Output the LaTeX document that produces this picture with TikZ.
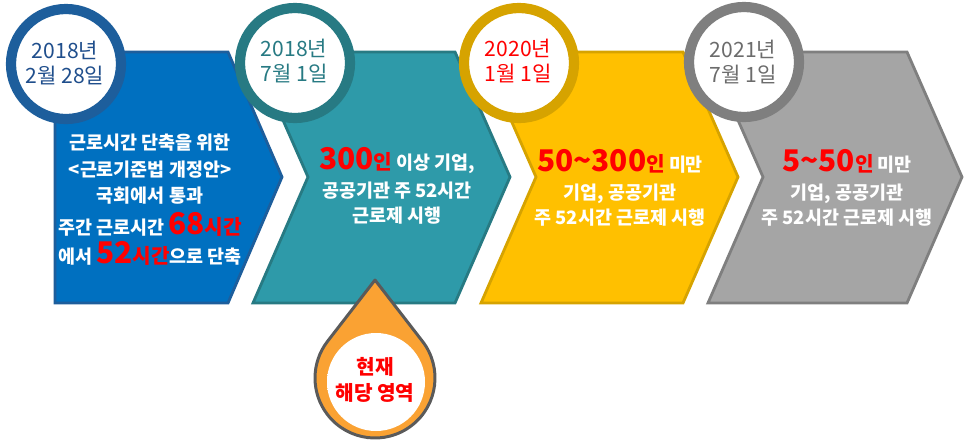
\documentclass[tikz,border=0pt]{standalone}
\usepackage{fontspec}
\setmainfont{Noto Sans CJK KR}
\usetikzlibrary{shadows}
\definecolor{blau}{HTML}{0070C0}
\definecolor{blaurand}{HTML}{1D5E9C}
\definecolor{blautext}{HTML}{1F4E8C}
\definecolor{petrol}{HTML}{2E9AA9}
\definecolor{petrolrand}{HTML}{277A83}
\definecolor{gelb}{HTML}{FFC000}
\definecolor{gelbrand}{HTML}{D6A300}
\definecolor{grau}{HTML}{A5A5A5}
\definecolor{graurand}{HTML}{7F7F7F}
\definecolor{tropfen}{HTML}{FAA233}
\definecolor{tropfenrand}{HTML}{5A5A5A}
\newcommand{\rotgross}[1]{{\color{red}\fontsize{17}{17}\selectfont\bfseries #1}}
\newcommand{\rotklein}[1]{{\color{red}\fontsize{11.5}{14}\selectfont #1}}
\pgfdeclareradialshading{tropfenlicht}{\pgfpoint{-6bp}{6bp}}{color(0bp)=(white); color(30bp)=(white); color(50bp)=(gray!70)}
\begin{document}
\begin{tikzpicture}[x=0.02cm,y=-0.02cm,
	feld/.style={line width=1.6pt},
	ring/.style={line width=5.8pt,fill=white,drop shadow={shadow xshift=1.5pt,shadow yshift=-1.5pt,opacity=0.3,fill=black}},
	datum/.style={align=center,font=\fontsize{12}{14}\selectfont},
	inhalt/.style={align=center,text=white,font=\fontsize{10.5}{14}\selectfont\bfseries}]
	\useasboundingbox (0,0) rectangle (966,443);
	% Pfeile
	\draw[feld,fill=blau,draw=blaurand] (55,52) to (228,52) to (282,177) to (228,303) to (55,303) to cycle;
	\draw[feld,fill=petrol,draw=petrolrand] (253,52) to (455,52) to (510,177) to (455,303) to (253,303) to (308,177) to cycle;
	\draw[feld,fill=gelb,draw=gelbrand] (481,52) to (683,52) to (738,177) to (683,303) to (481,303) to (536,177) to cycle;
	\draw[feld,fill=grau,draw=graurand] (708,52) to (907,52) to (962,177) to (907,303) to (708,303) to (763,177) to cycle;
	% Kreise
	\draw[ring,draw=blaurand] (66,64) circle (55);
	\draw[ring,draw=petrolrand] (295,63) circle (55);
	\draw[ring,draw=gelbrand] (519,63) circle (55);
	\draw[ring,draw=graurand] (744,62) circle (55);
	% Tropfen
	\coordinate (S) at (375,280);
	\coordinate (M) at (375,378);
	\draw[line width=1.7pt,draw=tropfenrand,fill=tropfen,line join=round] (S) to ([shift={(-37.7:60)}]M) arc[start angle=-37.7,end angle=217.7,radius=60] to cycle;
	\shade[shading=tropfenlicht] (376,382) circle (49);
	% Texte
	\node[datum,text=blautext] (D1) at (65,63) {2018년\\2월 28일};
	\node[datum,text=petrolrand] (D2) at (294,61) {2018년\\7월 1일};
	\node[datum,text=red] (D3) at (518,61) {2020년\\1월 1일};
	\node[datum,text=graurand!85!black] (D4) at (743,62) {2021년\\7월 1일};
	\node[inhalt,font=\fontsize{10.5}{15}\selectfont\bfseries] (T1) at (150,200) {근로시간 단축을 위한\\<근로기준법 개정안>\\국회에서 통과\\[3pt]주간 근로시간 \rotgross{68}\rotklein{시간}\\[2pt]에서 \rotgross{52}\rotklein{시간}으로 단축};
	\node[inhalt] (T2) at (397,186) {\rotgross{300}\rotklein{인} 이상 기업,\\[2pt]공공기관 주 52시간\\근로제 시행};
	\node[inhalt] (T3) at (620,188) {\rotgross{50\textasciitilde300}\rotklein{인} 미만\\[2pt]기업, 공공기관\\주 52시간 근로제 시행};
	\node[inhalt] (T4) at (847,188) {\rotgross{5\textasciitilde50}\rotklein{인} 미만\\[2pt]기업, 공공기관\\주 52시간 근로제 시행};
	\node[align=center,text=red,font=\fontsize{11.5}{15}\selectfont\bfseries] (H) at (375,380) {현재\\해당 영역};
\end{tikzpicture}
\end{document}
